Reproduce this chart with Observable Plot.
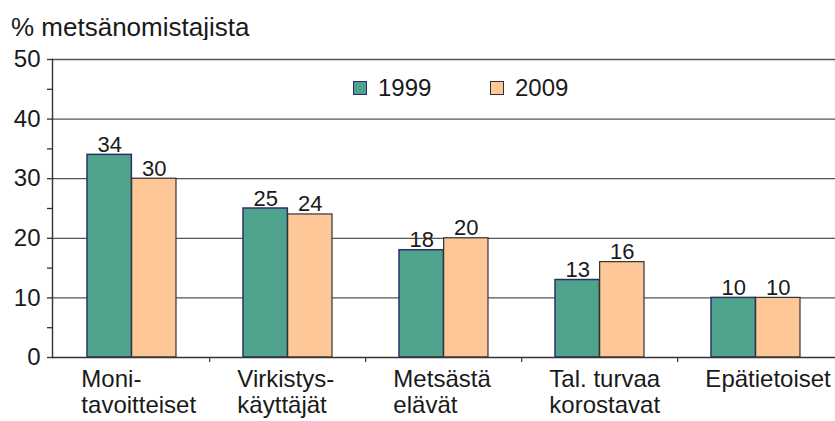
<!DOCTYPE html>
<html>
<head>
<meta charset="utf-8">
<script src="https://cdn.jsdelivr.net/npm/d3@7"></script>
<script src="https://cdn.jsdelivr.net/npm/@observablehq/plot@0.6"></script>
<style>
  body { margin: 0; background: #fff; font-family: "Liberation Sans", Arial, sans-serif; }
  #wrap { position: relative; width: 835px; height: 421px; overflow: hidden; }
  #title { position: absolute; left: 11px; top: 14px; font-size: 26px; color: #1a1a1a; line-height: 1; }
  #chart { position: absolute; left: 0; top: 40px; }
  .leg { position: absolute; top: 76px; font-size: 24px; color: #1a1a1a; display: flex; align-items: center; line-height: 1; }
  .sw { width: 12px; height: 12px; margin-right: 11px; border: 1.5px solid #333; }
</style>
</head>
<body>
<div id="wrap">
  <div id="title">% metsänomistajista</div>
  <div id="chart"></div>
  <div class="leg" style="left:353px"><span class="sw" id="sw1"></span><span id="lg1"></span></div>
  <div class="leg" style="left:490px"><span class="sw" id="sw2"></span><span id="lg2"></span></div>
</div>
<script>
const categories = ["Moni-\ntavoitteiset", "Virkistys-\nkäyttäjät", "Metsästä\nelävät", "Tal. turvaa\nkorostavat", "Epätietoiset"];
const years = ["1999", "2009"];
const values1999 = [34, 25, 18, 13, 10];
const values2009 = [30, 24, 20, 16, 10];
const yTicks = [0, 10, 20, 30, 40, 50];
const yMinorTicks = [5, 15, 25, 35, 45];
const colors = ["#4fa38d", "#fec797"];
const strokes = ["#2c2f6b", "#333333"];

const data = categories.map((c, i) => ({cat: c, v1999: values1999[i], v2009: values2009[i]}));

const W = 835, H = 381, ML = 52, MR = 0, MT = 19, MB = 64;
const padInner = 0.43;
const step = (W - ML - MR) / categories.length;
const bw = step * (1 - padInner);

const chart = Plot.plot({
  width: W, height: H,
  marginLeft: ML, marginRight: MR, marginTop: MT, marginBottom: MB,
  style: {fontFamily: "Liberation Sans, Arial, sans-serif", color: "#1a1a1a", background: "white"},
  x: {domain: categories, paddingInner: padInner, paddingOuter: padInner / 2, align: 0.5, label: null},
  y: {domain: [0, 50], label: null},
  marks: [
    Plot.gridY(yTicks.slice(1), {stroke: "#555", strokeOpacity: 1, strokeWidth: 1.3}),
    Plot.barY(data, {x: "cat", y: "v1999", fill: colors[0], stroke: strokes[0], strokeWidth: 1.5, insetRight: bw / 2}),
    Plot.barY(data, {x: "cat", y: "v2009", fill: colors[1], stroke: strokes[1], strokeWidth: 1.2, insetLeft: bw / 2}),
    Plot.text(data, {x: "cat", y: "v1999", text: d => String(d.v1999), dx: -bw / 4, dy: -3, lineAnchor: "bottom", fontSize: 22, fill: "#1a1a1a"}),
    Plot.text(data, {x: "cat", y: "v2009", text: d => String(d.v2009), dx: bw / 4, dy: -3, lineAnchor: "bottom", fontSize: 22, fill: "#1a1a1a"}),
    Plot.ruleY([0], {stroke: "#333", strokeWidth: 1.6}),
    Plot.ruleX(categories.slice(1), {x: d => d, dx: -step / 2, y1: 0, y2: 0, insetBottom: -5, stroke: "#333", strokeWidth: 1.2}),
    Plot.frame({anchor: "left", stroke: "#333", strokeWidth: 1.4}),
    Plot.axisY(yTicks, {tickSize: 5, tickPadding: 7, fontSize: 24, stroke: "#333", strokeWidth: 1.3}),
    Plot.axisY(yMinorTicks, {tickSize: 5, text: null, stroke: "#333", strokeWidth: 1.3}),
    Plot.axisX({tickSize: 0, tickPadding: 12, fontSize: 24, textAnchor: "start", dx: -bw / 2 - 6, lineHeight: 1.05})
  ]
});
document.getElementById("chart").appendChild(chart);
document.getElementById("sw1").style.background = colors[0];
document.getElementById("sw1").style.borderColor = strokes[0];
document.getElementById("sw2").style.background = colors[1];
document.getElementById("lg1").textContent = years[0];
document.getElementById("lg2").textContent = years[1];
</script>
</body>
</html>
